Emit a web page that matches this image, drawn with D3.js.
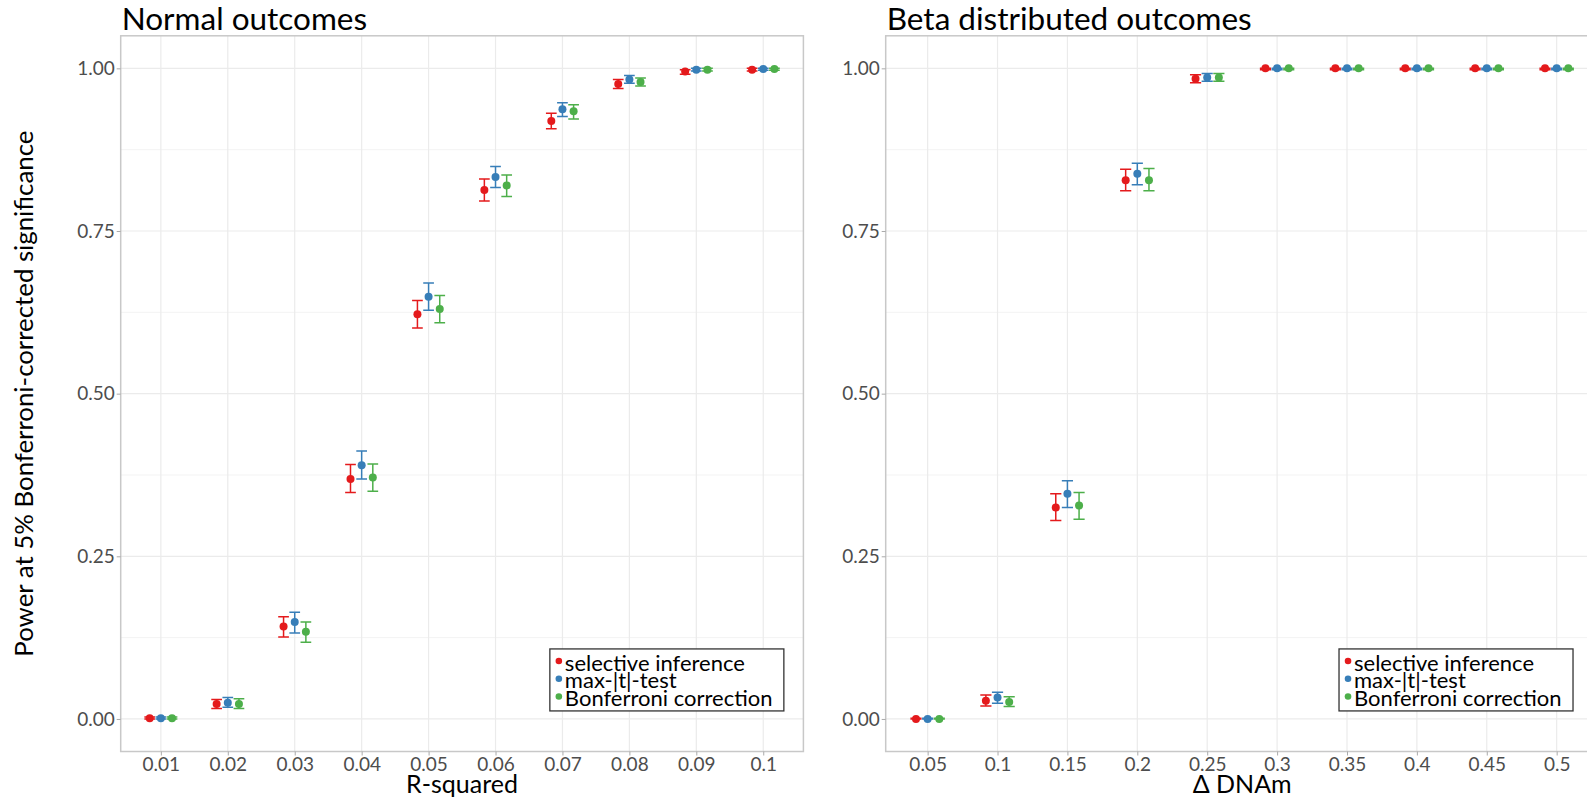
<!DOCTYPE html>
<html lang="en">
<head>
<meta charset="UTF-8">
<title>power</title>
<script src="https://cdn.jsdelivr.net/npm/d3@7"></script>
<style>
  body { margin: 0; background: #fff; }
  text { font-family: Lato, "Open Sans", sans-serif; }
</style>
</head>
<body>
<svg width="1587" height="804"></svg>
<script>
// data
const methods = ["selective inference", "max-|t|-test", "Bonferroni correction"];
const colors = ["#E41A1C", "#377EB8", "#4DAF4A"];

// left panel: normal outcomes
const normCats = ["0.01", "0.02", "0.03", "0.04", "0.05", "0.06", "0.07", "0.08", "0.09", "0.1"];
const normSI   = [0.001, 0.023, 0.142, 0.369, 0.622, 0.813, 0.919, 0.976, 0.995, 0.998];
const normSIlo = [0.000, 0.016, 0.126, 0.348, 0.601, 0.796, 0.907, 0.969, 0.991, 0.996];
const normSIhi = [0.003, 0.030, 0.157, 0.391, 0.643, 0.830, 0.931, 0.983, 0.998, 1.000];
const normMT   = [0.001, 0.025, 0.149, 0.390, 0.649, 0.833, 0.937, 0.983, 0.998, 0.999];
const normMTlo = [0.000, 0.018, 0.132, 0.369, 0.628, 0.817, 0.926, 0.977, 0.996, 0.997];
const normMThi = [0.003, 0.033, 0.164, 0.412, 0.670, 0.849, 0.947, 0.989, 1.000, 1.000];
const normBF   = [0.001, 0.023, 0.134, 0.371, 0.630, 0.820, 0.934, 0.979, 0.998, 0.999];
const normBFlo = [0.000, 0.016, 0.118, 0.350, 0.609, 0.803, 0.922, 0.973, 0.996, 0.997];
const normBFhi = [0.003, 0.031, 0.149, 0.392, 0.651, 0.836, 0.944, 0.985, 1.000, 1.000];

// right panel: beta distributed outcomes
const betaCats = ["0.05", "0.1", "0.15", "0.2", "0.25", "0.3", "0.35", "0.4", "0.45", "0.5"];
const betaSI   = [0.000, 0.028, 0.325, 0.828, 0.984, 1.000, 1.000, 1.000, 1.000, 1.000];
const betaSIlo = [0.000, 0.020, 0.305, 0.812, 0.978, 0.998, 0.998, 0.998, 0.998, 0.998];
const betaSIhi = [0.001, 0.037, 0.346, 0.845, 0.990, 1.000, 1.000, 1.000, 1.000, 1.000];
const betaMT   = [0.000, 0.033, 0.346, 0.838, 0.986, 1.000, 1.000, 1.000, 1.000, 1.000];
const betaMTlo = [0.000, 0.024, 0.325, 0.821, 0.980, 0.998, 0.998, 0.998, 0.998, 0.998];
const betaMThi = [0.001, 0.041, 0.366, 0.854, 0.992, 1.000, 1.000, 1.000, 1.000, 1.000];
const betaBF   = [0.000, 0.026, 0.328, 0.828, 0.986, 1.000, 1.000, 1.000, 1.000, 1.000];
const betaBFlo = [0.000, 0.019, 0.307, 0.812, 0.980, 0.998, 0.998, 0.998, 0.998, 0.998];
const betaBFhi = [0.001, 0.034, 0.348, 0.846, 0.992, 1.000, 1.000, 1.000, 1.000, 1.000];

const yTicks = [0, 0.25, 0.5, 0.75, 1];
const yMinor = [0.125, 0.375, 0.625, 0.875];

const svg = d3.select("svg");

const panels = [
  { title: "Normal outcomes", xlab: "R-squared", cats: normCats, x0: 120.7, x1: 803.4,
    series: [[normSI, normSIlo, normSIhi], [normMT, normMTlo, normMThi], [normBF, normBFlo, normBFhi]] },
  { title: "Beta distributed outcomes", xlab: "\u0394 DNAm", cats: betaCats, x0: 885.7, x1: 1598.6,
    series: [[betaSI, betaSIlo, betaSIhi], [betaMT, betaMTlo, betaMThi], [betaBF, betaBFlo, betaBFhi]] }
];

const yTop = 35.8, yBot = 751.5;
const y = d3.scaleLinear().domain([-0.05, 1.05]).range([yBot, yTop]);

panels.forEach(p => {
  const x = d3.scalePoint().domain(p.cats).range([p.x0, p.x1]).padding(0.6);
  const step = x.step();
  const dodge = d3.scalePoint().domain(methods).range([-step / 6, step / 6]);

  const g = svg.append("g");

  // grid
  g.append("g").selectAll("line")
    .data(yMinor).enter().append("line")
    .attr("x1", p.x0).attr("x2", p.x1)
    .attr("y1", d => y(d)).attr("y2", d => y(d))
    .attr("stroke", "#f3f3f3").attr("stroke-width", 1);
  g.append("g").selectAll("line")
    .data(yTicks).enter().append("line")
    .attr("x1", p.x0).attr("x2", p.x1)
    .attr("y1", d => y(d)).attr("y2", d => y(d))
    .attr("stroke", "#ebebeb").attr("stroke-width", 1.2);
  g.append("g").selectAll("line")
    .data(p.cats).enter().append("line")
    .attr("x1", d => x(d)).attr("x2", d => x(d))
    .attr("y1", yTop).attr("y2", yBot)
    .attr("stroke", "#ebebeb").attr("stroke-width", 1.2);

  // error bars + points
  p.series.forEach((s, k) => {
    const rows = p.cats.map((c, i) => ({ c: c, v: s[0][i], lo: s[1][i], hi: s[2][i] }));
    const cx = d => x(d.c) + dodge(methods[k]);
    const cap = step * 0.08;
    const eb = g.append("g").attr("stroke", colors[k]).attr("stroke-width", 1.5).attr("fill", "none");
    eb.selectAll("path").data(rows).enter().append("path")
      .attr("d", d => {
        const xc = cx(d), yl = y(d.lo), yh = y(d.hi);
        return `M${xc - cap},${yh}H${xc + cap}M${xc},${yh}V${yl}M${xc - cap},${yl}H${xc + cap}`;
      });
    g.append("g").selectAll("circle").data(rows).enter().append("circle")
      .attr("cx", cx).attr("cy", d => y(d.v)).attr("r", 4)
      .attr("fill", colors[k]);
  });

  // panel border
  g.append("rect")
    .attr("x", p.x0).attr("y", yTop)
    .attr("width", p.x1 - p.x0).attr("height", yBot - yTop)
    .attr("fill", "none").attr("stroke", "#c8c8c8").attr("stroke-width", 1.5);

  // axes
  const ya = g.append("g").attr("transform", `translate(${p.x0},0)`)
    .call(d3.axisLeft(y).tickValues(yTicks).tickFormat(d3.format(".2f")).tickSize(4).tickPadding(2));
  const xa = g.append("g").attr("transform", `translate(0,${yBot})`)
    .call(d3.axisBottom(x).tickSize(4).tickPadding(2));
  [ya, xa].forEach(a => {
    a.select(".domain").remove();
    a.selectAll(".tick line").attr("stroke", "#aaaaaa");
    a.selectAll(".tick text").attr("fill", "#4d4d4d").style("font-size", "19px");
  });

  // titles
  g.append("text").attr("x", p.x0 + 1).attr("y", 30)
    .style("font-size", "31.5px").attr("fill", "#000").text(p.title);
  g.append("text").attr("x", (p.x0 + p.x1) / 2).attr("y", 793)
    .attr("text-anchor", "middle").style("font-size", "25px").attr("fill", "#000").text(p.xlab);

  // legend
  const lw = 234, lh = 62;
  const lx = p.x0 + 0.8 * (p.x1 - p.x0) - lw / 2;
  const ly = yBot - 0.1 * (yBot - yTop) - lh / 2;
  const lg = g.append("g").attr("transform", `translate(${lx},${ly})`);
  lg.append("rect").attr("width", lw).attr("height", lh)
    .attr("fill", "#fff").attr("stroke", "#333").attr("stroke-width", 1.3);
  methods.forEach((m, k) => {
    lg.append("circle").attr("cx", 9).attr("cy", 12 + k * 17.8).attr("r", 3.3).attr("fill", colors[k]);
    lg.append("text").attr("x", 15).attr("y", 21.7 + k * 17.8)
      .style("font-size", "22px").attr("fill", "#000").text(m);
  });
});

// y axis title
svg.append("text")
  .attr("transform", `translate(33,${(yTop + yBot) / 2}) rotate(-90)`)
  .attr("text-anchor", "middle").style("font-size", "25px").attr("fill", "#000")
  .attr("textLength", 526).attr("lengthAdjust", "spacingAndGlyphs")
  .text("Power at 5% Bonferroni-corrected significance");
</script>
</body>
</html>
